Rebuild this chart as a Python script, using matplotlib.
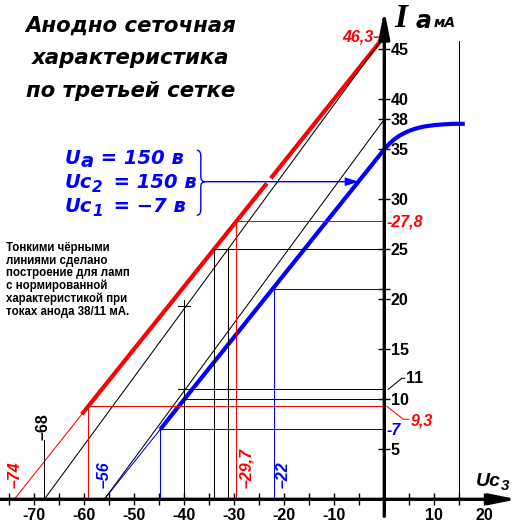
import matplotlib
matplotlib.use("Agg")
import matplotlib.pyplot as plt
from matplotlib.path import Path
from matplotlib.patches import PathPatch

plt.rcParams["axes.unicode_minus"] = False
plt.rcParams["font.family"] = ["Liberation Sans", "DejaVu Sans"]

# ---------------- data ----------------
red_x = [-74, -60.5, -23.5, -22.7, 0]
red_y = [0, 8.5, 31.6, 32.1, 46.3]
blue_x = [-56, -44.8, 0, 1, 2, 3, 4, 5, 6, 7, 8, 10, 12, 14, 16.1]
blue_y = [0, 7, 35, 35.55, 36.0, 36.35, 36.62, 36.85, 37.03, 37.17, 37.28,
          37.42, 37.5, 37.55, 37.55]
norm1_x = [-68, 0]
norm1_y = [0, 46.3]
norm2_x = [-56, 0]
norm2_y = [0, 38]
red_pts_x = [-59.2, -29.7]
red_pts_y = [9.3, 27.8]
blue_pts_x = [-44.8, -22]
blue_pts_y = [7, 21]
level25_x = [-34.1, -31.3]
level25_y = 25
v40_x = -40
v40_top = 19.9
v40_marks = [19.3, 11]
h_low_x = [-41, -40]
h_low_y = [11, 10]
sat_x = 15
sat_y = [0.6, 45.8]
arrow_y = 31.76
arrow_x_end = -5.1

x_major = [-70, -60, -50, -40, -30, -20, -10, 10, 20]
x_minor = [-75, -65, -55, -45, -35, -25, -15, -5, 5, 15]
y_major = [5, 10, 15, 20, 25, 30, 35, 38, 40, 45]
y_minor = [21]

title_lines = ["Анодно сеточная", "характеристика", "по третьей сетке"]
note_lines = ["Тонкими чёрными", "линиями сделано", "построение для ламп",
              "с нормированной", "характеристикой при", "токах анода 38/11 мА."]

RED = "#ff0000"
BLUE = "#0000ff"
W, H = 522, 528

fig = plt.figure(figsize=(W / 100, H / 100), dpi=100)
ax = fig.add_axes([0, 0, 1, 1])
X0, Y0, SX, SY = 384.3, 499.3, 5.0, 10.0
ax.set_xlim(-X0 / SX, (W - X0) / SX)
ax.set_ylim(-(H - Y0) / SY, Y0 / SY)
ax.patch.set_alpha(0)
fig.patch.set_facecolor("white")

for s in ax.spines.values():
    s.set_visible(False)
ax.spines["bottom"].set_position(("data", 0))
ax.spines["right"].set_position(("data", 0))
ax.xaxis.tick_bottom()
ax.yaxis.tick_right()
ax.set_xticks(x_major)
ax.set_xticks(x_minor, minor=True)
ax.set_yticks(y_major)
ax.set_yticks(y_minor, minor=True)
ax.set_yticklabels([str(v) for v in y_major], fontweight="bold")
ax.set_xticklabels([str(v) for v in x_major], fontweight="bold")
ax.tick_params(axis="both", which="both", direction="inout", length=8.5,
               width=1.0, colors="black", labelsize=11.5)
ax.tick_params(axis="x", pad=2.0)
ax.tick_params(axis="y", pad=0.5)

thin, thick = 0.75, 3.0
kw_thick = dict(lw=thick, solid_capstyle="butt", solid_joinstyle="round")

# red characteristic
ax.plot(red_x[:2], red_y[:2], color=RED, lw=thin)
ax.plot(red_x[1:3], red_y[1:3], color=RED, **kw_thick)
ax.plot(red_x[3:], red_y[3:], color=RED, **kw_thick)
# blue characteristic
ax.plot(blue_x[:2], blue_y[:2], color=BLUE, lw=thin)
ax.plot(blue_x[1:], blue_y[1:], color=BLUE, **kw_thick)
# normalized lines
ax.plot(norm1_x, norm1_y, color="k", lw=thin)
ax.plot(norm2_x, norm2_y, color="k", lw=thin)

# construction lines
for x, y in zip(red_pts_x, red_pts_y):
    ax.plot([x, x], [0, y], color=RED, lw=thin)
    ax.plot([x, 0], [y, y], color=RED, lw=thin)
for x, y in zip(blue_pts_x, blue_pts_y):
    ax.plot([x, x], [0, y], color=BLUE, lw=thin)
    ax.plot([x, 0], [y, y], color=BLUE, lw=thin)
for x in level25_x:
    ax.plot([x, x], [0, level25_y], color="k", lw=thin)
ax.plot([level25_x[0], 0], [level25_y, level25_y], color="k", lw=thin)
ax.plot([v40_x, v40_x], [0, v40_top], color="k", lw=thin)
for m in v40_marks:
    ax.plot([v40_x - 1.2, v40_x + 1.2], [m, m], color="k", lw=thin)
for x, y in zip(h_low_x, h_low_y):
    ax.plot([x, 0], [y, y], color="k", lw=thin)
ax.plot([sat_x, sat_x], sat_y, color="k", lw=thin)
ax.plot([-68, -68], [0, 5.9], color="k", lw=thin)

# axes with arrows
axkw = dict(arrowstyle="-|>,head_length=1.6,head_width=0.32", lw=2.4,
            color="k", shrinkA=0, shrinkB=0, mutation_scale=10)
ax.annotate("", xy=(26.6, 0), xytext=(-77.5, 0), arrowprops=axkw,
            annotation_clip=False, zorder=6)
ax.annotate("", xy=(0, 48.9), xytext=(0, -1.7), arrowprops=axkw,
            annotation_clip=False, zorder=6)

# brace and arrow
bx_end, bx_stem, bx_tip = -37.5, -36.7, -35.86
b_top, b_bot = 34.9, 28.4
verts = [(bx_end, b_top), (bx_stem, b_top), (bx_stem, b_top - 0.6),
         (bx_stem, arrow_y + 0.5), (bx_stem, arrow_y), (bx_tip, arrow_y),
         (bx_stem, arrow_y), (bx_stem, arrow_y - 0.5),
         (bx_stem, b_bot + 0.6), (bx_stem, b_bot), (bx_end, b_bot)]
codes = [Path.MOVETO, Path.CURVE3, Path.CURVE3, Path.LINETO, Path.CURVE3,
         Path.CURVE3, Path.CURVE3, Path.CURVE3, Path.LINETO, Path.CURVE3,
         Path.CURVE3]
ax.add_patch(PathPatch(Path(verts, codes), fc="none", ec=BLUE, lw=1.0))
ax.annotate("", xy=(arrow_x_end, arrow_y), xytext=(bx_tip, arrow_y),
            arrowprops=dict(arrowstyle="-|>,head_length=0.8,head_width=0.25",
                            lw=1.0, color=BLUE, shrinkA=0, shrinkB=0,
                            mutation_scale=10))

# leaders for 11 and 9,3
ax.plot([0.8, 3.5, 4.1], [11.0, 12.1, 12.1], color="k", lw=thin)
ax.plot([0.5, 3.8, 4.9], [9.3, 8.0, 8.0], color=RED, lw=thin)

# value labels near axes
lab = dict(fontsize=11.5, va="baseline", fontweight="bold")
ax.text(-0.4, 45.83, "46,3–", color=RED, style="italic", ha="right", **lab)
ax.text(0.54, 27.26, "-27,8", color=RED, style="italic", ha="left", **lab)
ax.text(0.54, 6.43, "-7", color=BLUE, style="italic", ha="left", **lab)
ax.text(5.28, 7.33, "9,3", color=RED, style="italic", ha="left", **lab)
ax.text(4.34, 11.6, "11", color="k", ha="left", **lab)

rot = dict(fontsize=11.5, rotation=90, ha="center", va="bottom",
           fontweight="bold")
ax.text(-73.9, 1.1, "–74", color=RED, style="italic", **rot)
ax.text(-68.2, 5.9, "–68", color="k", **rot)
ax.text(-56.0, 1.1, "–56", color=BLUE, style="italic", **rot)
ax.text(-27.5, 1.1, "–29,7", color=RED, style="italic", **rot)
ax.text(-20.2, 1.1, "–22", color=BLUE, style="italic", **rot)

fig.canvas.draw()
renderer = fig.canvas.get_renderer()


def rich(px, py, pieces, **common):
    x = px
    for s, size, dy in pieces:
        t = fig.text(x / W, 1 - (py + dy) / H, s, fontsize=size,
                     va="baseline", ha="left", **common)
        x = t.get_window_extent(renderer).x1


# title
for i, line in enumerate(title_lines):
    fig.text(131 / W, 1 - (31.7 + 32.5 * i) / H, line, ha="center",
             va="baseline", fontsize=15.3, fontweight="bold",
             fontstyle="italic", family="DejaVu Sans")

# note
for i, line in enumerate(note_lines):
    fig.text(6 / W, 1 - (251 + 12.7 * i) / H, line, ha="left",
             va="baseline", fontsize=8.3, fontweight="bold",
             family="Liberation Sans")

# blue parameters
bkw = dict(color=BLUE, fontweight="bold", fontstyle="italic",
           family="DejaVu Sans")
rich(65, 164.3, [("U", 14, 0), ("a", 14, 2.3), (" = 150 в", 14, 0)], **bkw)
rich(65, 188.3, [("Uc", 14, 0), ("2", 11, 4), (" \u2009= 150 в", 14, 0)], **bkw)
rich(65, 212.3, [("Uc", 14, 0), ("1", 11, 4), (" \u2009= −7 в", 14, 0)], **bkw)

# axis names
fig.text(394 / W, 1 - 27 / H, "I", fontsize=24, style="italic",
         fontweight="bold", family="Liberation Serif", va="baseline")
fig.text(416 / W, 1 - 27.5 / H, "a", fontsize=17, style="italic",
         fontweight="bold", family="DejaVu Sans", va="baseline")
fig.text(434 / W, 1 - 27.3 / H, "мА", fontsize=10, style="italic",
         fontweight="bold", family="DejaVu Sans", va="baseline")
rich(476, 486, [("Uc", 14, 0), ("3", 11, 4)], color="k", style="italic",
     fontweight="bold", family="Liberation Sans")

fig.savefig("out.png", dpi=100)
